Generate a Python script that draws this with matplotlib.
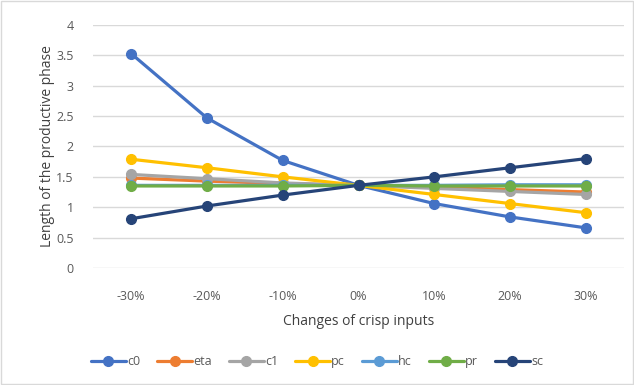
import matplotlib
matplotlib.use("Agg")
import matplotlib.pyplot as plt
import numpy as np

plt.rcParams['font.family'] = ['Open Sans', 'DejaVu Sans']

categories = ['-30%', '-20%', '-10%', '0%', '10%', '20%', '30%']

c0 = [3.53, 2.47, 1.77, 1.36, 1.06, 0.84, 0.66]
eta = [1.48, 1.43, 1.39, 1.36, 1.33, 1.29, 1.25]
c1 = [1.54, 1.47, 1.40, 1.36, 1.31, 1.26, 1.21]
pc = [1.79, 1.65, 1.50, 1.36, 1.21, 1.06, 0.91]
hc = [1.36, 1.36, 1.36, 1.36, 1.36, 1.37, 1.37]
pr = [1.35, 1.35, 1.35, 1.36, 1.35, 1.35, 1.35]
sc = [0.81, 1.02, 1.20, 1.36, 1.50, 1.65, 1.80]

series = [
    ('c0', c0, '#4472C4'),
    ('eta', eta, '#ED7D31'),
    ('c1', c1, '#A5A5A5'),
    ('pc', pc, '#FFC000'),
    ('hc', hc, '#5B9BD5'),
    ('pr', pr, '#70AD47'),
    ('sc', sc, '#264478'),
]

fig = plt.figure(figsize=(6.34, 3.85), dpi=100)
ax = fig.add_axes([0.147, 0.304, 0.837, 0.631])

x = np.arange(len(categories))
for name, vals, col in series:
    ax.plot(x, vals, color=col, lw=2.3, marker='o', ms=7, label=name,
            solid_capstyle='round')

ax.set_xlim(-0.5, len(categories) - 0.5)
ax.set_ylim(0, 4)
ax.set_yticks(np.arange(0, 4.01, 0.5))
ax.set_yticklabels(['0', '0.5', '1', '1.5', '2', '2.5', '3', '3.5', '4'])
ax.set_xticks(x)
ax.set_xticklabels(categories)
ax.grid(axis='y', color='#D9D9D9', lw=1)
ax.set_axisbelow(True)
for s in ax.spines.values():
    s.set_visible(False)
ax.tick_params(length=0, labelsize=9, colors='#595959')
ax.tick_params(axis='x', pad=16)
ax.tick_params(axis='y', pad=14)

ax.set_xlabel('Changes of crisp inputs', fontsize=10, color='#404040', labelpad=8)
ax.set_ylabel('Length of the productive phase', fontsize=10, color='#404040', labelpad=1)

fig.legend(loc='center', bbox_to_anchor=(0.5, 0.06), ncol=7, frameon=False,
           fontsize=9, labelcolor='#595959', handlelength=2.8, handletextpad=0.1,
           columnspacing=1.35)

fig.patches.append(plt.Rectangle((0.002, 0.002), 0.996, 0.996, transform=fig.transFigure,
                                 fill=False, edgecolor='#D9D9D9', lw=1))

fig.savefig('out.png', dpi=100)
